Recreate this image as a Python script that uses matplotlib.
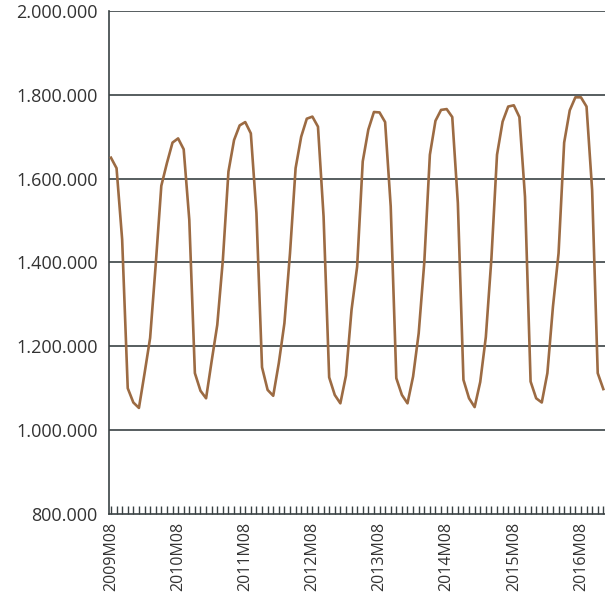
# monthly series, 2009M08 - 2016M12
import numpy
import matplotlib
matplotlib.use("Agg")
import matplotlib.pyplot as plt
from matplotlib.ticker import FuncFormatter, FixedLocator

matplotlib.rc("font", family=["Open Sans", "DejaVu Sans"])

start_year = 2009
start_month = 8

# values in thousands
values = [
    1650, 1625, 1455, 1100, 1066, 1053, 1135, 1220, 1395, 1583, 1637, 1686,
    1696, 1670, 1502, 1136, 1094, 1076, 1165, 1251, 1406, 1617, 1692, 1727,
    1735, 1708, 1518, 1150, 1096, 1082, 1160, 1255, 1422, 1625, 1700, 1743,
    1748, 1724, 1510, 1126, 1084, 1064, 1130, 1287, 1390, 1641, 1717, 1759,
    1758, 1735, 1534, 1124, 1084, 1064, 1128, 1231, 1400, 1657, 1738, 1764,
    1766, 1747, 1542, 1120, 1076, 1055, 1115, 1222, 1410, 1657, 1736, 1772,
    1775, 1747, 1557, 1116, 1076, 1066, 1136, 1295, 1422, 1686, 1763, 1794,
    1794, 1772, 1573, 1136, 1098,
]
yticks = [800000, 1000000, 1200000, 1400000, 1600000, 1800000, 2000000]

months = []
for i in range(len(values)):
    m = start_month - 1 + i
    months.append("%dM%02d" % (start_year + m // 12, m % 12 + 1))

y = numpy.array(values) * 1000
x = numpy.arange(len(y))

fig = plt.figure(figsize=(6.05, 5.94), dpi=100)
ax = fig.add_axes([0.1797, 0.1347, 0.8203, 0.8468])

grid_color = "#3a4244"
text_color = "#333333"

for v in yticks[1:]:
    ax.axhline(v, color=grid_color, lw=1.2, zorder=1)

ax.plot(x, y, color="#9c6b43", lw=1.9, zorder=3)

ax.set_ylim(800000, 2000000)
ax.set_xlim(-0.4, 88.3)
ax.set_yticks(yticks)
ax.yaxis.set_major_formatter(FuncFormatter(lambda v, p: f"{v:,.0f}".replace(",", ".")))
ax.tick_params(axis="y", length=0, pad=8, labelsize=13, labelcolor=text_color)

ax.xaxis.set_major_locator(FixedLocator(x[::12]))
ax.set_xticklabels(months[::12], rotation=90)
ax.xaxis.set_minor_locator(FixedLocator(x))
ax.tick_params(axis="x", which="major", direction="in", length=6, width=1,
               color=grid_color, labelsize=11.5, labelcolor=text_color, pad=5.5)
ax.tick_params(axis="x", which="minor", direction="in", length=6, width=1, color=grid_color)

for s in ["top", "right"]:
    ax.spines[s].set_visible(False)
for s in ["left", "bottom"]:
    ax.spines[s].set_color(grid_color)
    ax.spines[s].set_linewidth(1.2)

plt.savefig("out.png", dpi=100)
